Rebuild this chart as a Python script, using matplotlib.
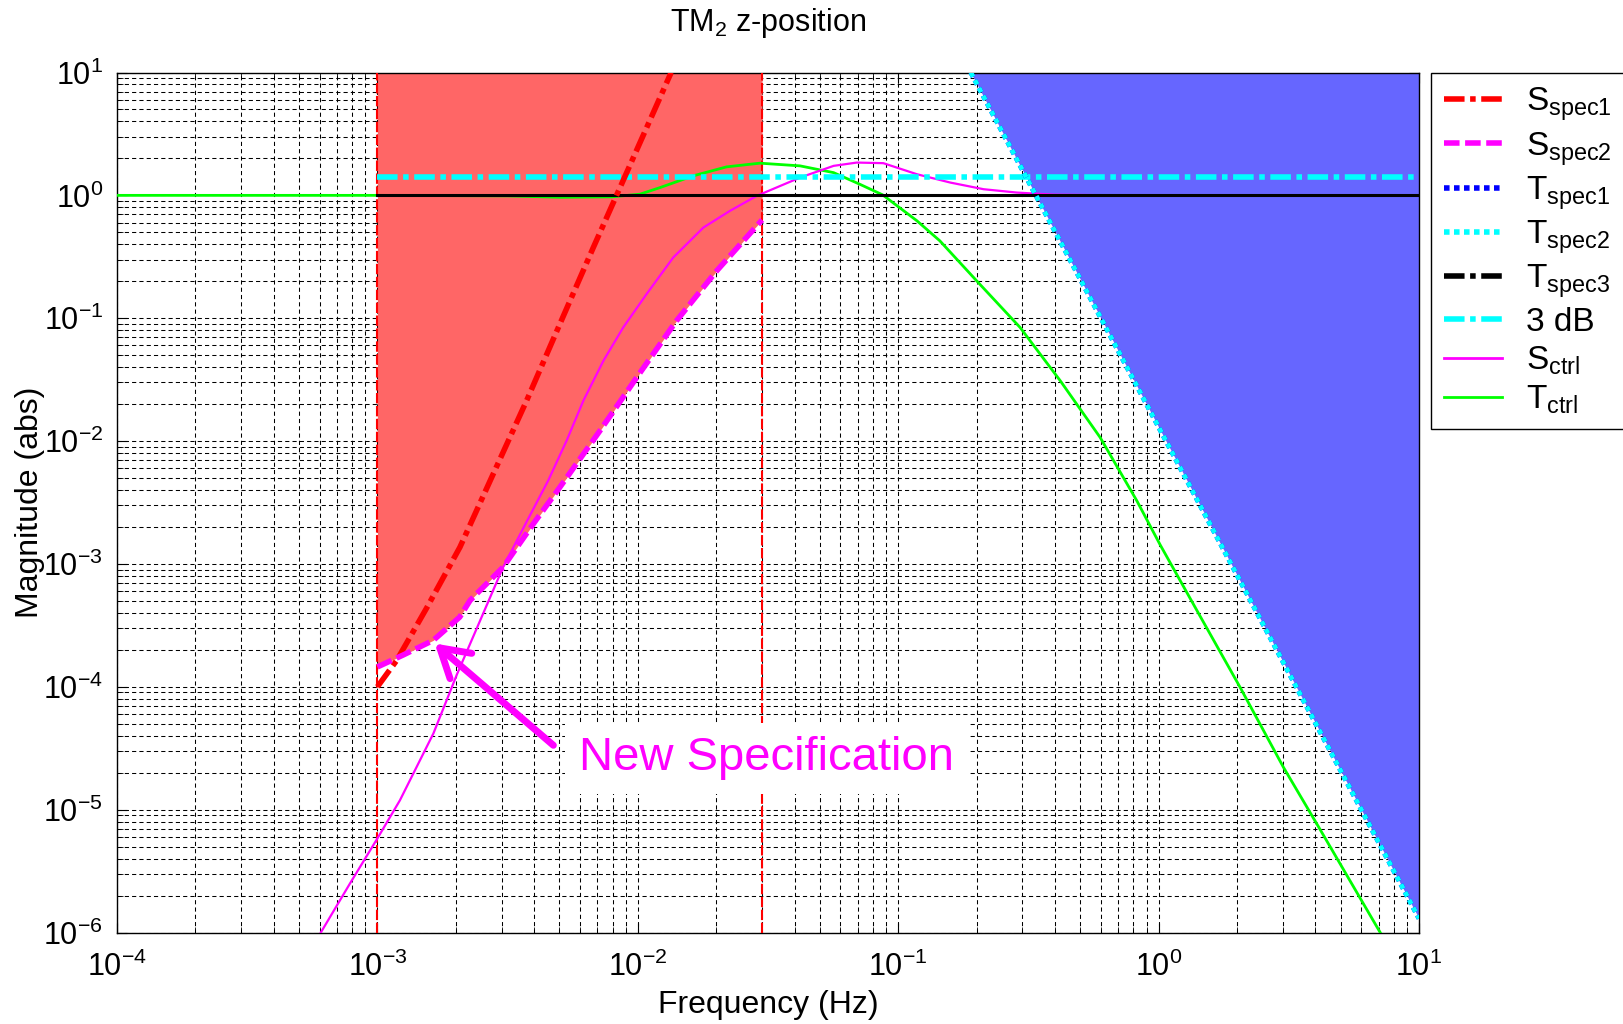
import numpy as np
import matplotlib.pyplot as plt
from matplotlib.lines import Line2D
from matplotlib.ticker import LogLocator, NullFormatter

plt.rcParams['font.family'] = ['Liberation Sans', 'DejaVu Sans']
plt.rcParams['mathtext.fontset'] = 'custom'
plt.rcParams['mathtext.rm'] = 'Liberation Sans'
plt.rcParams['mathtext.it'] = 'Liberation Sans:italic'
plt.rcParams['mathtext.bf'] = 'Liberation Sans:bold'

# ---- data (frequency in Hz, magnitude abs) ----
sspec1_f = [1e-3, 1.186e-3, 1.545e-3, 2.075e-3, 2.786e-3, 3.74e-3, 5.02e-3, 6.75e-3, 8.77e-3, 0.01343]
sspec1_mag = [1e-4, 1.64e-4, 4.37e-4, 1.37e-3, 5.41e-3, 0.0213, 0.0897, 0.377, 1.31, 10.0]

sspec2_f = [1e-3, 1.26e-3, 1.64e-3, 2.07e-3, 2.27e-3, 3.04e-3, 3.97e-3, 5.02e-3, 7.16e-3,
            9.91e-3, 0.01409, 0.02009, 0.030]
sspec2_mag = [1.45e-4, 1.82e-4, 2.39e-4, 3.69e-4, 5.05e-4, 9.42e-4, 2.12e-3, 4.21e-3, 0.01216,
              0.0330, 0.0955, 0.243, 0.631]

tspec_f = [0.19, 10.0]
tspec_mag = [10.0, 1.3e-6]

tspec3_f = [1e-3, 10.0]
tspec3_mag = [1.0, 1.0]

db3_f = [1e-3, 10.0]
db3_mag = [1.413, 1.413]

sctrl_f = [6.03e-4, 7.85e-4, 1e-3, 1.22e-3, 1.64e-3, 2.02e-3, 3.04e-3, 3.74e-3, 4.53e-3,
           5.33e-3, 6.18e-3, 7.38e-3, 8.79e-3, 0.01081, 0.01368, 0.01786, 0.02259, 0.02864,
           0.04198, 0.05649, 0.06934, 0.0877, 0.118, 0.1585, 0.2128, 0.2851, 0.398, 0.741]
sctrl_mag = [9.8e-7, 2.51e-6, 5.83e-6, 1.19e-5, 4.16e-5, 1.26e-4, 9.42e-4, 2.2e-3, 4.78e-3,
             0.01009, 0.02133, 0.0451, 0.0841, 0.1574, 0.3119, 0.547, 0.748, 0.991,
             1.396, 1.738, 1.849, 1.828, 1.486, 1.271, 1.122, 1.054, 1.012, 1.0]

tctrl_f = [1e-4, 1e-3, 3.16e-3, 5.01e-3, 7.94e-3, 0.0102, 0.01216, 0.01633, 0.02193, 0.02944,
           0.04198, 0.05649, 0.07112, 0.0871, 0.118, 0.1445, 0.2, 0.2938, 0.4188, 0.5957,
           0.8241, 1.014, 1.442, 2.056, 3.013, 4.178, 7.096]
tctrl_mag = [1.0, 1.0, 0.99, 0.965, 0.972, 1.023, 1.156, 1.442, 1.706, 1.828,
             1.738, 1.531, 1.233, 1.01, 0.621, 0.4266, 0.2018, 0.0841, 0.03105, 0.01074,
             3.28e-3, 1.43e-3, 3.77e-4, 9.9e-5, 2.22e-5, 6.85e-6, 1.0e-6]

band_edges = [1e-3, 0.03]
labels = [r'S$_{\mathrm{spec1}}$', r'S$_{\mathrm{spec2}}$', r'T$_{\mathrm{spec1}}$',
          r'T$_{\mathrm{spec2}}$', r'T$_{\mathrm{spec3}}$', '3 dB',
          r'S$_{\mathrm{ctrl}}$', r'T$_{\mathrm{ctrl}}$']

xlim = (1e-4, 10)
ylim = (1e-6, 10)

dashdot = (0, (3.7, 1, 1, 1))
dashed = (0, (2.8, 1))
dotted = (0, (1, 0.8))

fig = plt.figure(figsize=(16.24, 10.24), dpi=100)
ax = fig.add_axes([117 / 1624, 1 - 932.5 / 1024, (1419 - 117) / 1624, (932.5 - 72.5) / 1024])

# shaded spec regions (drawn above the grid)
ax.fill_between(sspec2_f, sspec2_mag, ylim[1], color='#FF6666', lw=0, zorder=2)
ax.fill_between(tspec_f, tspec_mag, ylim[1], color='#6666FF', lw=0, zorder=2)
for fe in band_edges:
    ax.axvline(fe, color='red', ls=(0, (5, 1.2)), lw=1.5, zorder=3)

ax.plot(tctrl_f, tctrl_mag, color='#00FF00', lw=2, zorder=4)
ax.plot(sctrl_f, sctrl_mag, color='magenta', lw=1.6, zorder=4)
ax.plot(tspec3_f, tspec3_mag, color='k', lw=2.2, zorder=4)
ax.plot(db3_f, db3_mag, color='cyan', ls=dashdot, lw=4, zorder=5)
ax.plot(tspec_f, tspec_mag, color='blue', ls=dotted, lw=3.5, zorder=5)
ax.plot(tspec_f, tspec_mag, color='cyan', ls=dotted, lw=3.5, zorder=5)
ax.plot(sspec1_f, sspec1_mag, color='red', ls=dashdot, lw=4, zorder=5)
ax.plot(sspec2_f, sspec2_mag, color='magenta', ls=dashed, lw=4, zorder=5)

ax.set_xscale('log')
ax.set_yscale('log')
ax.set_xlim(*xlim)
ax.set_ylim(*ylim)
for axis in (ax.xaxis, ax.yaxis):
    axis.set_major_locator(LogLocator(base=10, numticks=20))
    axis.set_minor_locator(LogLocator(base=10, subs=np.arange(2, 10), numticks=200))
    axis.set_minor_formatter(NullFormatter())
ax.grid(True, which='both', color='k', ls=(0, (4, 3)), lw=0.75)
ax.tick_params(which='both', direction='in', top=True, right=True, labelsize=22)
ax.tick_params(which='major', length=7)
ax.tick_params(which='minor', length=4)
ax.tick_params(axis='y', pad=10)
ax.tick_params(axis='x', pad=14)
for sp in ax.spines.values():
    sp.set_linewidth(1.0)

ax.set_title(r'TM$_2$ z-position', fontsize=22, pad=30)
ax.set_xlabel('Frequency (Hz)', fontsize=23, labelpad=5)
ax.set_ylabel('Magnitude (abs)', fontsize=23, labelpad=-1)

# annotation
ax.annotate('', xy=(1.66e-3, 2.25e-4), xytext=(4.74e-3, 3.34e-5),
            arrowprops=dict(arrowstyle='->,head_length=0.5,head_width=0.3', color='magenta',
                            lw=5, mutation_scale=40, shrinkA=0, shrinkB=0), zorder=7)
ax.text(0.0312, 2.62e-5, 'New Specification', color='magenta', fontsize=34,
        ha='center', va='center', zorder=6,
        bbox=dict(facecolor='white', edgecolor='none', pad=10))

handles = [
    Line2D([], [], color='red', ls=dashdot, lw=4),
    Line2D([], [], color='magenta', ls=dashed, lw=4),
    Line2D([], [], color='blue', ls=dotted, lw=4),
    Line2D([], [], color='cyan', ls=dotted, lw=4),
    Line2D([], [], color='k', ls=dashdot, lw=4),
    Line2D([], [], color='cyan', ls=dashdot, lw=4),
    Line2D([], [], color='magenta', lw=2),
    Line2D([], [], color='#00FF00', lw=2),
]
leg = ax.legend(handles, labels, loc='upper left', bbox_to_anchor=(1.009, 1.0),
                borderaxespad=0, fontsize=24, handlelength=1.75, handletextpad=0.7,
                labelspacing=0.2, borderpad=0.4, fancybox=False, edgecolor='k',
                framealpha=1)
leg.get_frame().set_linewidth(1.0)

fig.savefig('out.png', dpi=100)
